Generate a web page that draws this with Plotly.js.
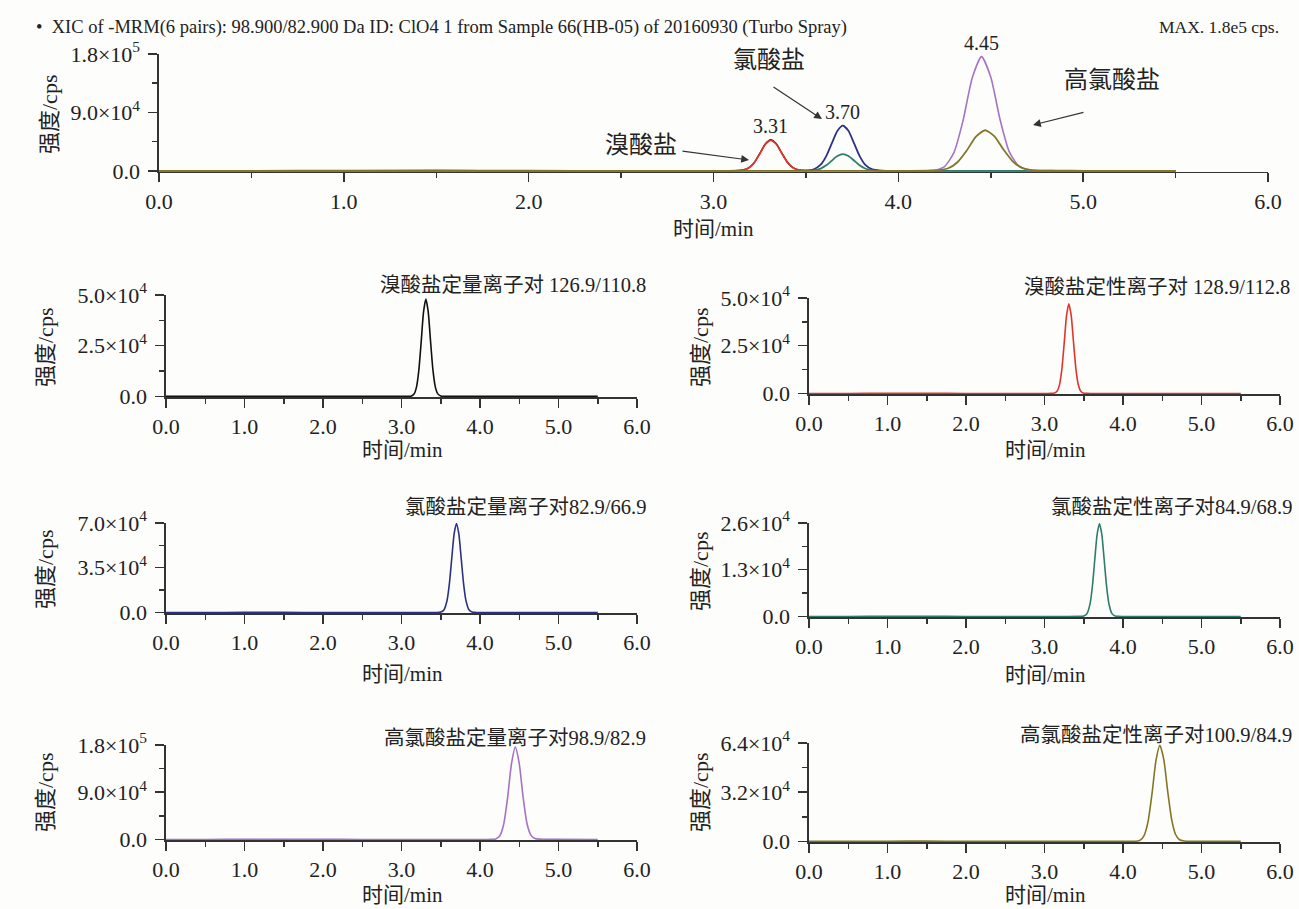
<!DOCTYPE html>
<html>
<head>
<meta charset="utf-8">
<script src="https://cdn.plot.ly/plotly-3.0.1.min.js"></script>
<style>
html,body{margin:0;padding:0;background:#fdfdfb;}
#chart{width:1299px;height:909px;}
</style>
</head>
<body>
<div id="chart"></div>
<script>
// ---------------- data ----------------
// Bromate, quantifier 126.9/110.8 (black) and qualifier 128.9/112.8 (red)
const brTime     = [0.00,0.50,1.00,1.50,2.00,2.50,3.00,3.08,3.12,3.16,3.19,3.22,3.25,3.28,3.31,3.34,3.37,3.40,3.43,3.46,3.50,3.55,3.60,4.00,4.50,5.00,5.50];
const brQuant    = [0,0,40,30,0,0,0,10,125,1170,4450,12600,26500,41400,48000,41800,27200,13200,4800,1350,160,10,0,0,0,0,0];
const brQual     = [0,0,30,20,0,0,0,10,120,1150,4350,12300,25900,40500,47000,40900,26600,12900,4700,1320,155,10,0,0,0,0,0];
// Chlorate, quantifier 82.9/66.9 (navy) and qualifier 84.9/68.9 (teal)
const clTime     = [0.00,0.50,1.00,1.50,2.00,2.50,3.00,3.46,3.50,3.54,3.58,3.61,3.64,3.67,3.70,3.73,3.76,3.79,3.82,3.86,3.90,3.95,4.00,4.50,5.00,5.50];
const clQuant    = [0,0,30,40,0,0,0,20,270,1980,9400,22600,42200,61300,69500,61600,42700,23000,9700,2100,300,20,0,0,0,0];
const clQual     = [0,0,20,20,0,0,0,10,100,735,3480,8400,15700,22750,25800,22850,15850,8550,3600,780,110,10,0,0,0,0];
// Perchlorate, quantifier 98.9/82.9 (purple)
const pcTime     = [0.00,0.50,1.00,1.50,2.00,2.50,3.00,3.50,4.00,4.15,4.20,4.25,4.30,4.35,4.40,4.45,4.50,4.55,4.60,4.65,4.70,4.76,4.85,5.00,5.50];
const pcQuant    = [0,0,150,250,50,0,0,0,0,105,1040,6580,27600,77400,143300,176000,144500,79500,29500,7800,1800,500,180,60,0];
// Perchlorate, qualifier 100.9/84.9 (olive)
const poTime     = [0.00,0.50,1.00,1.50,2.00,2.50,3.00,3.50,4.00,4.17,4.22,4.27,4.32,4.37,4.42,4.47,4.52,4.57,4.62,4.67,4.72,4.78,4.87,5.00,5.50];
const poQual     = [0,0,100,200,50,0,0,0,0,125,825,3925,13200,31250,52600,62500,53200,32300,14200,4500,1100,300,100,30,0];

// peak retention times labelled in the overview
const peakTimes  = [3.31, 3.70, 4.45];
const peakLabels = ['3.31', '3.70', '4.45'];
const peakHeights = [48000, 69500, 176000];

// tick labels
const xTickVals = [0,1,2,3,4,5,6];
const xTickText = ['0.0','1.0','2.0','3.0','4.0','5.0','6.0'];
const yMaxes    = [1.8e5, 5.0e4, 5.0e4, 7.0e4, 2.6e4, 1.8e5, 6.4e4];
const yTickVals = [
  [0, 9.0e4, 1.8e5],
  [0, 2.5e4, 5.0e4],
  [0, 2.5e4, 5.0e4],
  [0, 3.5e4, 7.0e4],
  [0, 1.3e4, 2.6e4],
  [0, 9.0e4, 1.8e5],
  [0, 3.2e4, 6.4e4]
];
const yTickText = [
  ['0.0','9.0×10<sup>4</sup>','1.8×10<sup>5</sup>'],
  ['0.0','2.5×10<sup>4</sup>','5.0×10<sup>4</sup>'],
  ['0.0','2.5×10<sup>4</sup>','5.0×10<sup>4</sup>'],
  ['0.0','3.5×10<sup>4</sup>','7.0×10<sup>4</sup>'],
  ['0.0','1.3×10<sup>4</sup>','2.6×10<sup>4</sup>'],
  ['0.0','9.0×10<sup>4</sup>','1.8×10<sup>5</sup>'],
  ['0.0','3.2×10<sup>4</sup>','6.4×10<sup>4</sup>']
];
const panelTitles = [
  '',
  '溴酸盐定量离子对 126.9/110.8',
  '溴酸盐定性离子对 128.9/112.8',
  '氯酸盐定量离子对82.9/66.9',
  '氯酸盐定性离子对84.9/68.9',
  '高氯酸盐定量离子对98.9/82.9',
  '高氯酸盐定性离子对100.9/84.9'
];
const headerText = '•  XIC of -MRM(6 pairs): 98.900/82.900 Da ID: ClO4 1 from Sample 66(HB-05) of 20160930 (Turbo Spray)';
const maxText = 'MAX. 1.8e5 cps.';
const compoundNames = ['溴酸盐', '氯酸盐', '高氯酸盐'];
const xTitle = '时间/min';
const yTitle = '强度/cps';

// ---------------- layout helpers ----------------
const W = 1299, H = 909;
const fx = p => p / W;
const fy = p => 1 - p / H;
const SERIF = 'Liberation Serif, Noto Sans CJK SC, serif';
const TXT = '#222';
const AX = '#333';

// plot-area pixel boxes: [left, right, zeroY, topY]
const boxes = [
  [159, 1268, 171.5, 54],
  [166, 637, 397, 295],
  [809, 1280, 394, 298],
  [166, 637, 613, 523],
  [809, 1280, 617, 523],
  [166, 637, 840, 745],
  [809, 1280, 842, 743]
];

const C = {black:'#111111', red:'#e0352b', navy:'#2c3183', teal:'#2f7d6c', purple:'#a673c4', olive:'#827626'};

const traces = [];
function addTrace(k, x, y, color, w) {
  traces.push({
    type:'scatter', mode:'lines', x:x, y:y,
    xaxis: k === 0 ? 'x' : 'x' + (k + 1),
    yaxis: k === 0 ? 'y' : 'y' + (k + 1),
    line:{color:color, width:w || 1.6, shape:'spline', smoothing:0.6},
    hoverinfo:'skip', showlegend:false
  });
}
// overview (all six transitions)
addTrace(0, brTime, brQuant, C.black, 1.4);
addTrace(0, brTime, brQual, C.red, 1.8);
addTrace(0, clTime, clQuant, C.navy, 1.8);
addTrace(0, clTime, clQual, C.teal, 1.8);
addTrace(0, pcTime, pcQuant, C.purple, 1.6);
addTrace(0, poTime, poQual, C.olive, 1.8);
// individual transitions
addTrace(1, brTime, brQuant, C.black);
addTrace(2, brTime, brQual, C.red);
addTrace(3, clTime, clQuant, C.navy);
addTrace(4, clTime, clQual, C.teal);
addTrace(5, pcTime, pcQuant, C.purple);
addTrace(6, poTime, poQual, C.olive);

const layout = {
  width: W, height: H,
  margin:{l:0, r:0, t:0, b:0},
  paper_bgcolor:'#fdfdfb', plot_bgcolor:'#fdfdfb',
  showlegend:false,
  font:{family:SERIF, color:TXT},
  annotations: []
};

boxes.forEach((b, k) => {
  const sx = k === 0 ? '' : String(k + 1);
  const ymax = yMaxes[k];
  const mid = yTickVals[k];
  layout['xaxis' + sx] = {
    domain:[fx(b[0]), fx(b[1])],
    anchor:'y' + sx,
    range:[0, 6],
    tickmode:'array', tickvals:xTickVals, ticktext:xTickText,
    ticks:'outside', ticklen:9, tickwidth:1.5, tickcolor:AX,
    minor:{tickmode:'linear', tick0:0, dtick:0.5, ticks:'outside', ticklen:5, tickwidth:1.5, tickcolor:AX, showgrid:false},
    showline:true, linecolor:AX, linewidth:1.6,
    showgrid:false, zeroline:false, layer:'below traces',
    tickfont:{family:SERIF, size:22, color:TXT},
    ticklabelstandoff: 0,
    fixedrange:true
  };
  layout['yaxis' + sx] = {
    domain:[fy(b[2]), fy(b[3])],
    anchor:'x' + sx,
    range:[-ymax * 0.006, ymax],
    tickmode:'array', tickvals:yTickVals[k], ticktext:yTickText[k],
    ticks:'outside', ticklen:9, tickwidth:1.5, tickcolor:AX,
    minor:{tickmode:'array', tickvals:[(mid[0] + mid[1]) / 2, (mid[1] + mid[2]) / 2], ticks:'outside', ticklen:5, tickwidth:1.5, tickcolor:AX, showgrid:false},
    showline:true, linecolor:AX, linewidth:1.6,
    showgrid:false, zeroline:false, layer:'below traces',
    tickfont:{family:SERIF, size:22, color:TXT},
    ticklabelstandoff: 4,
    fixedrange:true
  };
});

const A = layout.annotations;
function txt(x, y, text, size, opts) {
  A.push(Object.assign({
    xref:'paper', yref:'paper', x:fx(x), y:fy(y), text:text, showarrow:false,
    xanchor:'center', yanchor:'middle',
    font:{family:SERIF, size:size, color:TXT}
  }, opts || {}));
}
// header line
txt(34, 27, headerText, 18.5, {xanchor:'left'});
txt(1281, 27, maxText, 17.5, {xanchor:'right'});

// axis titles
const xTitlePos = [[713, 229], [402, 450], [1045, 450], [402, 674], [1045, 675], [402, 895], [1045, 895]];
const yTitlePos = [[50, 115], [45, 348], [700, 348], [45, 570], [700, 572], [45, 793], [700, 793]];
xTitlePos.forEach(p => txt(p[0], p[1], xTitle, 21));
yTitlePos.forEach(p => txt(p[0], p[1], yTitle, 22, {textangle:-90}));

// panel titles (right aligned)
const titlePos = [null, [648, 285], [1292, 287], [648, 507], [1294, 507], [648, 738], [1294, 735]];
titlePos.forEach((p, k) => { if (p) txt(p[0], p[1], panelTitles[k], 20.5, {xanchor:'right'}); });

// retention time labels
peakTimes.forEach((t, i) => {
  A.push({xref:'x', yref:'y', x:t, y:peakHeights[i], text:peakLabels[i], showarrow:false,
          xanchor:'center', yanchor:'bottom', yshift:1,
          font:{family:SERIF, size:20, color:TXT}});
});

// compound names + arrows in the overview
txt(641, 145, compoundNames[0], 24);
txt(769, 60, compoundNames[1], 24);
txt(1112, 80, compoundNames[2], 24);
function arrow(x0, y0, x1, y1) {
  A.push({xref:'paper', yref:'paper', axref:'paper', ayref:'paper',
          x:fx(x1), y:fy(y1), ax:fx(x0), ay:fy(y0), text:'', showarrow:true,
          arrowhead:2, arrowsize:1.3, arrowwidth:1.2, arrowcolor:'#333', standoff:0, startstandoff:0});
}
arrow(681, 151, 749, 160);
arrow(772, 86, 822, 119);
arrow(1085, 112, 1033, 125);

Plotly.newPlot('chart', traces, layout, {displayModeBar:false, staticPlot:true});
</script>
</body>
</html>
